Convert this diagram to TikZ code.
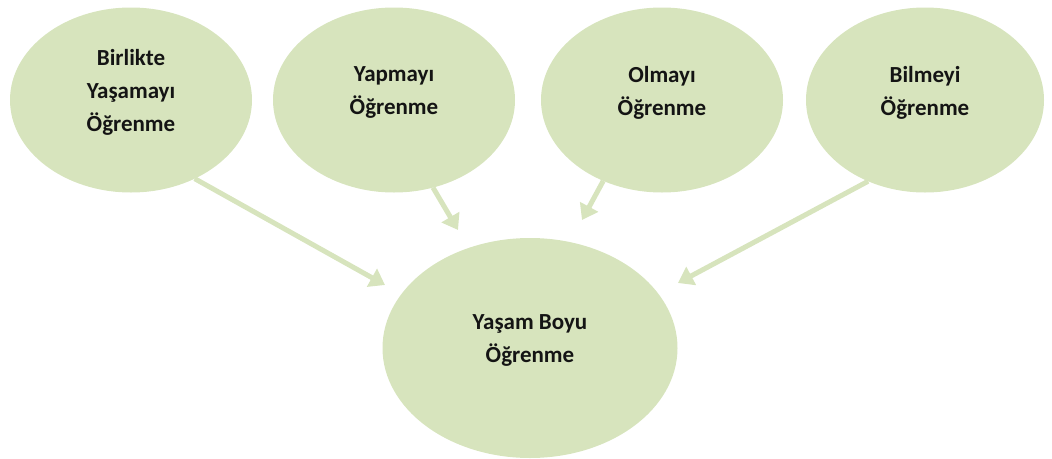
\documentclass[tikz,border=0pt]{standalone}
\usepackage{fontspec}
\setmainfont{Carlito}
\usepackage{xcolor}
\usetikzlibrary{shapes.geometric,arrows.meta}
\definecolor{lifegreen}{RGB}{215, 228, 189}
\definecolor{lifetext}{RGB}{20, 20, 20}

\begin{document}
\begin{tikzpicture}[x=1pt, y=-1pt]
\tikzset{
  topic/.style={ellipse, fill=lifegreen, draw=none, inner sep=0pt, outer sep=0pt,
    minimum width=242pt, minimum height=185pt, align=center, text=lifetext,
    font=\fontsize{23}{33}\selectfont\bfseries, text depth=19pt},
  flow/.style={draw=lifegreen, line width=5pt, -{Triangle[width=20pt,length=15pt]}}
}
\useasboundingbox (0,0) rectangle (1052,458);

% outer circles
\node[topic] (birlikte) at (131,100) {Birlikte\\Yaşamayı\\Öğrenme};
\node[topic] (yapmayi) at (394,100) {Yapmayı\\Öğrenme};
\node[topic] (olmayi) at (662,100) {Olmayı\\Öğrenme};
\node[topic, minimum width=238pt] (bilmeyi) at (925,100) {Bilmeyi\\Öğrenme};

% centre
\node[topic, minimum width=295pt, minimum height=220pt] (yasam) at (530,348) {Yaşam Boyu\\Öğrenme};

% arrow tips
\coordinate (t1) at (385,285);
\coordinate (t2) at (458,230);
\coordinate (t3) at (582,220);
\coordinate (t4) at (678,283);

\draw[flow] (birlikte.-51) -- (t1);
\draw[flow] (yapmayi.-66) -- (t2);
\draw[flow] (olmayi.234) -- (t3);
\draw[flow] (bilmeyi.235) -- (t4);
\end{tikzpicture}
\end{document}
